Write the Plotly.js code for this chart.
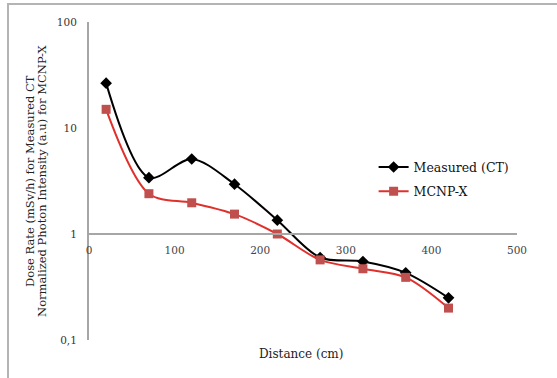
<!DOCTYPE html>
<html>
<head>
<meta charset="utf-8">
<script src="https://cdn.plot.ly/plotly-3.0.1.min.js"></script>
<style>
  html, body { margin: 0; padding: 0; background: #fff; }
  #frame { position: absolute; left: 7px; top: 3px; width: 560px; height: 390px;
           border-top: 2px solid #b4b4b4; border-left: 2px solid #b4b4b4; }
  #chart { position: absolute; left: 0; top: 0; width: 557px; height: 378px; }
</style>
</head>
<body>
<div id="frame"></div>
<div id="chart"></div>
<script>
const distance = [20, 70, 120, 170, 220, 270, 320, 370, 420];
const measuredCT = [26.5, 3.4, 5.1, 2.95, 1.35, 0.6, 0.55, 0.43, 0.25];
const mcnpX = [15, 2.4, 1.97, 1.54, 1.0, 0.57, 0.47, 0.39, 0.2];
const yTickVals = [0.1, 1, 10, 100];
const yTickText = ['0,1', '1', '10', '100'];
const xTickVals = [0, 100, 200, 300, 400, 500];
const yTitleLines = ['Dose Rate (mSv/h) for Measured CT', 'Normalized Photon Intensity (a.u) for MCNP-X'];

const serif = 'Liberation Serif, DejaVu Serif, serif';
const wideSerif = 'DejaVu Serif, serif';

const traces = [
  {
    x: distance, y: measuredCT, name: 'Measured (CT)', type: 'scatter', mode: 'lines+markers',
    legendgroup: 'a',
    line: {color: '#000000', width: 2, shape: 'spline', smoothing: 0.9},
    marker: {symbol: 'diamond', size: 9, color: '#000000'}
  },
  {
    x: distance, y: mcnpX, name: 'MCNP-X', type: 'scatter', mode: 'lines+markers',
    legendgroup: 'b',
    line: {color: '#e0302c', width: 2, shape: 'spline', smoothing: 0.9},
    marker: {symbol: 'square', size: 9, color: '#c0504d'}
  }
];

const layout = {
  width: 557, height: 378,
  margin: {l: 89, r: 40, t: 22, b: 38},
  paper_bgcolor: 'rgba(0,0,0,0)', plot_bgcolor: 'rgba(0,0,0,0)',
  showlegend: true,
  font: {family: serif, color: '#222'},
  xaxis: {
    range: [0, 500], tickvals: xTickVals, anchor: 'free', position: 1/3,
    showline: true, linecolor: '#a6a6a6', linewidth: 2, showgrid: false, zeroline: false,
    ticks: '', ticklabelstandoff: 6,
    tickfont: {family: wideSerif, size: 10.5, color: '#444'}
  },
  yaxis: {
    type: 'log', range: [-1, 2], tickvals: yTickVals, ticktext: yTickText,
    showline: true, linecolor: '#a6a6a6', linewidth: 2, showgrid: false, zeroline: false,
    ticks: '', ticklabelstandoff: 8,
    tickfont: {family: wideSerif, size: 10.5, color: '#333'}
  },
  legend: {
    x: 0.665, y: 0.59, xanchor: 'left', yanchor: 'top',
    font: {family: wideSerif, size: 12.5, color: '#111'},
    bgcolor: 'rgba(0,0,0,0)', itemwidth: 30, traceorder: 'grouped', tracegroupgap: 5
  },
  annotations: [
    {
      text: 'Distance (cm)', xref: 'paper', yref: 'paper', x: 0.495, y: -0.015,
      xanchor: 'center', yanchor: 'top', showarrow: false,
      font: {family: wideSerif, size: 12, color: '#222'}
    },
    {
      text: yTitleLines[0], xref: 'paper', yref: 'paper', x: -0.138, y: 0.5,
      xanchor: 'center', yanchor: 'middle', textangle: -90, showarrow: false,
      font: {family: wideSerif, size: 11.5, color: '#222'}
    },
    {
      text: yTitleLines[1], xref: 'paper', yref: 'paper', x: -0.110, y: 0.5,
      xanchor: 'center', yanchor: 'middle', textangle: -90, showarrow: false,
      font: {family: wideSerif, size: 11.5, color: '#222'}
    }
  ]
};

Plotly.newPlot('chart', traces, layout, {displayModeBar: false, staticPlot: true});
</script>
</body>
</html>
